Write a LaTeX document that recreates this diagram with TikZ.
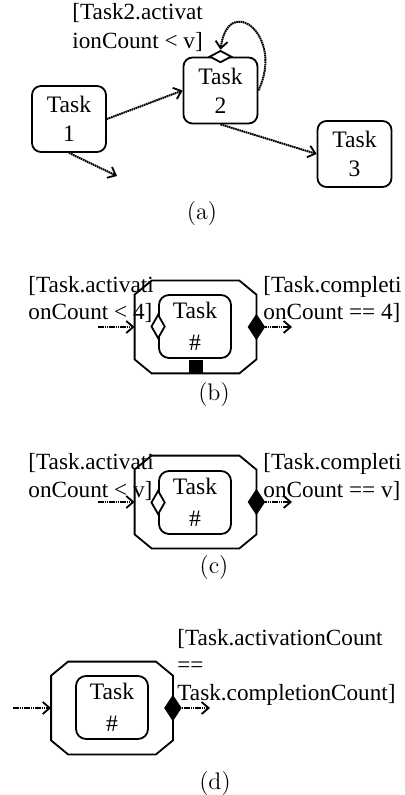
\documentclass[tikz,border=0pt]{standalone}
\usepackage{fontspec}
\newfontfamily\timesfont{Liberation Serif}
\usetikzlibrary{shapes.geometric, arrows.meta, positioning}

% octagonal frame drawn around a named placeholder node
\newcommand{\octframe}[1]{%
  \draw[line width=0.9pt] ([xshift=8.5pt]#1.north west) -- ([xshift=-8.5pt]#1.north east)
    -- ([yshift=-7pt]#1.north east) -- ([yshift=7pt]#1.south east)
    -- ([xshift=-8.5pt]#1.south east) -- ([xshift=8.5pt]#1.south west)
    -- ([yshift=7pt]#1.south west) -- ([yshift=-7pt]#1.north west) -- cycle;}

\begin{document}
\begin{tikzpicture}[x=0.5pt, y=-0.5pt,
        task/.style={draw, rectangle, rounded corners=4.5pt, line width=0.9pt, minimum width=37pt, minimum height=33pt, align=center, inner sep=0pt, font=\timesfont\fontsize{11.8}{14.5}\selectfont},
        taskin/.style={task, minimum width=36pt, minimum height=31.5pt, rounded corners=5pt, font=\timesfont\fontsize{11.8}{16}\selectfont},
        octa/.style={rectangle, minimum width=60.5pt, minimum height=46pt, inner sep=0pt},
        guard/.style={align=left, inner sep=0pt, font=\timesfont\fontsize{11.6}{13.75}\selectfont},
        gate/.style={draw, diamond, line width=0.9pt, inner sep=0pt, minimum width=7pt, minimum height=12pt},
        sublabel/.style={font=\fontsize{12}{14}\selectfont},
        arrow/.style={-{Straight Barb[length=3.5pt, width=6pt, line width=0.9pt]}, line width=1pt, dash pattern=on 0.8pt off 0.3pt}
    ]
        \useasboundingbox (0,0) rectangle (404,795);

        % (a) tasks
        \node[task] (task1) at (69,119) {Task\\1};
        \node[task] (task2) at (220.5,90.5) {Task\\2};
        \node[task] (task3) at (354.5,154) {Task\\3};
        \node[gate, fill=white, minimum width=11pt, minimum height=6pt] (loopgate) at (task2.north) {};
        \coordinate (t1out) at (117,176);
        \node[guard, anchor=base west, font=\timesfont\fontsize{11.6}{14.5}\selectfont] (guarda) at (72,49) {[Task2.activat\\ionCount < v]};
        \node[sublabel] (capa) at (202,214) {(a)};

        \draw[arrow] (task1.east) -- (task2.west);
        \draw[arrow] (task2.south) -- (task3.west);
        \draw[arrow] (task1.south) -- (t1out);
        \draw[arrow] (task2.east) .. controls (285,35) and (228,-8) .. (loopgate.north);

        % (b) fixed count
        \node[octa] (octb) at (195.5,327) {};
        \octframe{octb}
        \node[taskin] (taskb) at (195,326.5) {Task\\\#};
        \node[gate, fill=white] (actb) at (taskb.west) {};
        \node[gate, fill=black, minimum width=8pt] (compb) at (octb.east) {};
        \node[draw, fill=black, minimum size=6.5pt, inner sep=0pt, anchor=south] (countb) at (octb.south) {};
        \coordinate (inb) at (98,327);
        \coordinate (outb) at (292,327);
        \node[guard, anchor=base west] (guardbl) at (28,320) {[Task.activati\\onCount < 4]};
        \node[guard, anchor=base west] (guardbr) at (263,320) {[Task.completi\\onCount == 4]};
        \node[sublabel] (capb) at (214,395) {(b)};

        \draw[arrow] (inb) -- (octb.west);
        \draw[arrow] (compb.east) -- (outb);

        % (c) variable count
        \node[octa] (octc) at (195.5,502) {};
        \octframe{octc}
        \node[taskin] (taskc) at (195,502.5) {Task\\\#};
        \node[gate, fill=white] (actc) at (taskc.west) {};
        \node[gate, fill=black, minimum width=8pt] (compc) at (octc.east) {};
        \coordinate (inc) at (98,502);
        \coordinate (outc) at (292,502);
        \node[guard, anchor=base west] (guardcl) at (28,497) {[Task.activati\\onCount < v]};
        \node[guard, anchor=base west] (guardcr) at (263,497) {[Task.completi\\onCount == v]};
        \node[sublabel] (capc) at (214,568) {(c)};

        \draw[arrow] (inc) -- (octc.west);
        \draw[arrow] (compc.east) -- (outc);

        % (d) completion only
        \node[octa] (octd) at (112,708) {};
        \octframe{octd}
        \node[taskin] (taskd) at (112,707.5) {Task\\\#};
        \node[gate, fill=black, minimum width=8pt] (compd) at (octd.east) {};
        \coordinate (ind) at (13,708);
        \coordinate (outd) at (210,708);
        \node[guard, anchor=base west] (guardd) at (177,700) {[Task.activationCount\\==\\Task.completionCount]};
        \node[sublabel] (capd) at (215,784) {(d)};

        \draw[arrow] (ind) -- (octd.west);
        \draw[arrow] (compd.east) -- (outd);

    \end{tikzpicture}
\end{document}
